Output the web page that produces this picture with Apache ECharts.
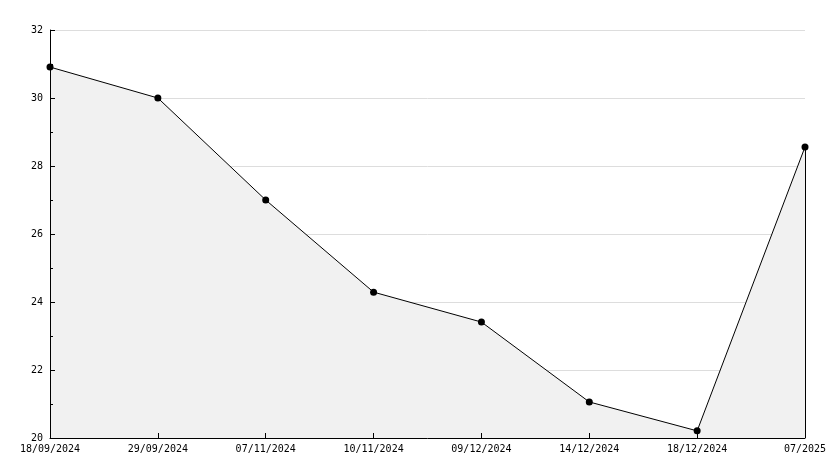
<!DOCTYPE html>
<html><head><meta charset="utf-8">
<script src="https://cdn.jsdelivr.net/npm/echarts@6/dist/echarts.min.js"></script>
<style>html,body{margin:0;padding:0;background:#fff}#c{width:834px;height:468px}</style>
</head><body><div id="c"></div>
<script>
const categories = ['18/09/2024','29/09/2024','07/11/2024','10/11/2024','09/12/2024','14/12/2024','18/12/2024','07/2025'];
const values = [30.91, 30.0, 27.0, 24.29, 23.41, 21.06, 20.21, 28.56];
const yMin = 20, yMax = 32, yStep = 2;

const chart = echarts.init(document.getElementById('c'), null, {renderer:'canvas'});
const font = '"DejaVu Sans Mono", monospace';
chart.setOption({
  animation:false,
  grid:{left:50, right:29, top:30, bottom:30, containLabel:false},
  xAxis:{
    type:'category', data:categories, boundaryGap:false, z:10,
    axisLine:{show:true, lineStyle:{color:'#000', width:1}},
    axisTick:{show:true, inside:true, length:5, alignWithLabel:true, lineStyle:{color:'#000'}},
    axisLabel:{color:'#000', fontFamily:font, fontSize:10, margin:6, interval:0},
    splitLine:{show:false}
  },
  yAxis:[{
    type:'value', min:yMin, max:yMax, interval:yStep, z:0, position:'left',
    axisLine:{show:false}, axisTick:{show:false}, axisLabel:{show:false},
    splitLine:{show:true, lineStyle:{color:'#dddddd', width:1}}
  },{
    type:'value', min:yMin, max:yMax, interval:yStep, z:10, position:'left', offset:0,
    axisLine:{show:true, lineStyle:{color:'#000', width:1}},
    axisTick:{show:true, inside:true, length:5, lineStyle:{color:'#000'}},
    minorTick:{show:true, splitNumber:2, length:3, lineStyle:{color:'#000'}},
    axisLabel:{color:'#000', fontFamily:font, fontSize:10, margin:7},
    splitLine:{show:false}
  }],
  series:[{
    type:'line', data:values, yAxisIndex:0,
    symbol:'circle', symbolSize:7,
    itemStyle:{color:'#000'},
    lineStyle:{color:'#000', width:1},
    areaStyle:{color:'#f1f1f1', opacity:1},
    z:3
  },{
    type:'line', yAxisIndex:0,
    data:values.map((v,i)=> i===values.length-1 ? v : null),
    markLine:{silent:true, symbol:'none', label:{show:false},
      lineStyle:{color:'#000', width:1, type:'solid'},
      data:[[{coord:[categories.length-1, yMin]},{coord:[categories.length-1, values[values.length-1]]}]]},
    symbol:'none', lineStyle:{width:0}, z:4
  }]
});
</script></body></html>
